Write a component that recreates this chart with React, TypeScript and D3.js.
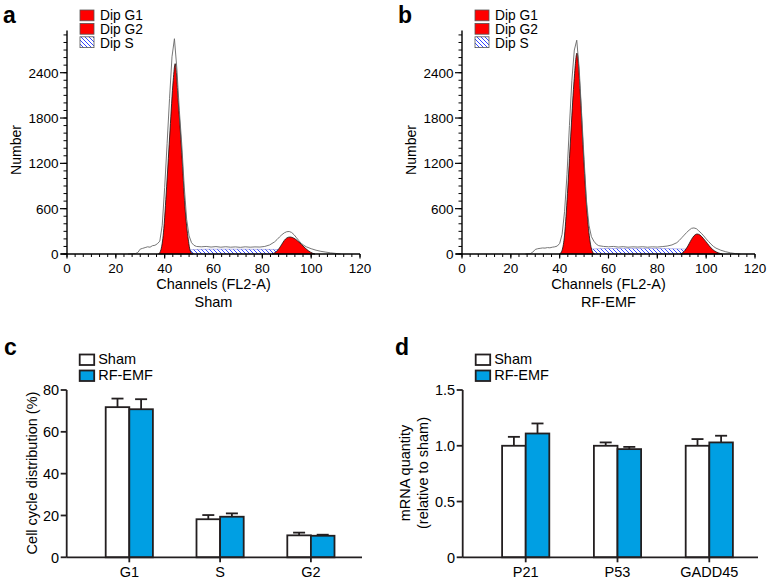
import React from "react";
import * as d3 from "d3";

// ---------- DATA ----------
// Histogram x ticks (channels) and y ticks (number)
const histXTicks = [0, 20, 40, 60, 80, 100, 120];
const histYTicks = [0, 600, 1200, 1800, 2400];
const histLegend = ["Dip G1", "Dip G2", "Dip S"];

// Panel a (Sham) – raw histogram [channel, count]
const shamRaw: [number, number][] = [
  [25, 0], [28, 5], [29, 20], [30, 65], [31, 75], [32, 85], [33, 95], [34, 90], [35, 110], [36, 115],
  [37, 135], [38, 170], [39, 380], [40, 880], [41, 1460], [42, 2060], [43, 2610], [44, 2850], [45, 2450],
  [46, 1900], [47, 1450], [48, 900], [49, 460], [50, 240], [51, 150], [52, 115], [53, 100], [55, 95],
  [57, 100], [59, 92], [61, 98], [63, 90], [65, 96], [67, 90], [69, 94], [71, 88], [73, 95], [75, 90],
  [77, 94], [79, 92], [81, 100], [83, 120], [85, 160], [86, 190], [87, 225], [88, 255], [89, 280],
  [90, 295], [91, 298], [92, 285], [93, 255], [94, 215], [95, 175], [96, 140], [97, 115], [98, 95],
  [100, 70], [102, 50], [104, 35], [106, 25], [108, 15], [110, 8], [112, 0],
];
const shamG1: [number, number][] = [
  [37.5, 0], [38.5, 60], [39.5, 280], [40.8, 890], [42.2, 1640], [43.5, 2300], [44.3, 2520],
  [45.6, 2000], [47, 1340], [48.3, 630], [49.7, 185], [50.5, 40], [51.5, 0],
];
const shamG2: [number, number][] = [
  [84, 0], [85, 15], [86, 40], [87, 80], [88, 130], [89, 180], [90, 212], [91.4, 225], [93, 208],
  [94.5, 172], [96, 128], [97.5, 80], [99, 40], [100.5, 12], [101.5, 0],
];
const shamS: [number, number][] = [
  [45.5, 0], [47, 25], [48.5, 45], [50, 55], [55, 62], [60, 64], [65, 64], [70, 64], [75, 63],
  [80, 62], [85, 60], [90, 56], [94, 45], [97, 25], [99, 8], [100, 0],
];

// Panel b (RF-EMF)
const rfRaw: [number, number][] = [
  [26, 0], [28, 5], [29, 25], [30, 60], [31, 70], [32, 75], [33, 80], [34, 78], [35, 85], [36, 82],
  [37, 90], [38, 95], [39, 105], [40, 140], [41, 260], [42, 560], [43, 1050], [44, 1700], [45, 2300],
  [46, 2700], [47, 2830], [48, 2450], [49, 1850], [50, 1250], [51, 700], [52, 380], [53, 230],
  [54, 170], [55, 130], [56, 110], [58, 100], [60, 95], [62, 100], [64, 92], [66, 97], [68, 90],
  [70, 95], [72, 92], [74, 96], [76, 90], [78, 95], [80, 92], [82, 98], [84, 105], [86, 120],
  [88, 150], [89, 180], [90, 215], [91, 250], [92, 285], [93, 315], [94, 340], [95, 345], [96, 335],
  [97, 305], [98, 275], [99, 240], [100, 200], [101, 165], [102, 130], [103, 100], [104, 78],
  [106, 50], [108, 30], [110, 15], [112, 5], [114, 0],
];
const rfG1: [number, number][] = [
  [40, 0], [41, 50], [42, 250], [43.2, 800], [44.5, 1550], [45.8, 2250], [47.1, 2660], [48.4, 2150],
  [49.7, 1350], [51, 650], [52.3, 200], [53.3, 40], [54.2, 0],
];
const rfG2: [number, number][] = [
  [89.5, 0], [90.5, 20], [91.5, 55], [92.5, 105], [93.5, 165], [94.5, 220], [95.5, 255], [96.3, 265],
  [97.5, 250], [99, 200], [100.5, 140], [102, 80], [103.5, 40], [105, 15], [106.6, 0],
];
const rfS: [number, number][] = [
  [48.5, 0], [50, 25], [51.5, 50], [53, 65], [58, 72], [65, 74], [72, 74], [80, 73], [86, 70],
  [92, 65], [96, 55], [100, 35], [103, 12], [105, 0],
];

// Panel c
const cycleCats = ["G1", "S", "G2"];
const cycleSham = [71.8, 18.2, 10.5];
const cycleShamErr = [4.1, 2.0, 1.3];
const cycleRF = [70.8, 19.4, 10.3];
const cycleRFErr = [4.8, 1.6, 0.5];
const cycleYTicks = [0, 20, 40, 60, 80];

// Panel d
const geneCats = ["P21", "P53", "GADD45"];
const geneSham = [1.0, 1.0, 1.0];
const geneShamErr = [0.08, 0.03, 0.06];
const geneRF = [1.11, 0.97, 1.03];
const geneRFErr = [0.09, 0.02, 0.06];
const geneYTicks = [0, 0.5, 1.0, 1.5];
const geneYLabels = ["0", "0.5", "1.0", "1.5"];

const groupNames = ["Sham", "RF-EMF"];

// ---------- STYLE ----------
const FONT = "Arial, 'Liberation Sans', Helvetica, sans-serif";
const RED = "#ff0000";
const BLUE = "#009fe3";
const DARK = "#231f20";

type Pts = [number, number][];

function Histogram(props: {
  id: string; x0: number; letter: string; letterX: number; title: string;
  raw: Pts; g1: Pts; g2: Pts; s: Pts;
}) {
  const { id, x0, letter, letterX, title, raw, g1, g2, s } = props;
  const x = d3.scaleLinear().domain([0, 120]).range([x0, x0 + 293]);
  const y = d3.scaleLinear().domain([0, 2400]).range([254, 72.7]);
  const area = d3.area<[number, number]>().x(d => x(d[0])).y0(y(0)).y1(d => y(d[1])).curve(d3.curveMonotoneX);
  const line = d3.line<[number, number]>().x(d => x(d[0])).y(d => y(d[1]));
  const minorX = d3.range(0, 120.001, 20 / 6);
  const minorY = d3.range(0, 2901, 100);
  const lx = x0 + 13;
  return (
    <g>
      <defs>
        <pattern id={`hatch-${id}`} patternUnits="userSpaceOnUse" width={4} height={4}>
          <rect width={4} height={4} fill="#fff" />
          <path d="M-1,-1 L5,5 M-1,3 L1,5 M3,-1 L5,1" stroke="#3346ff" strokeWidth={1} />
        </pattern>
      </defs>
      <text x={letterX} y={22.7} fontSize={23} fontWeight="bold" fontFamily={FONT}>{letter}</text>
      {/* legend */}
      {histLegend.map((name, i) => (
        <g key={name}>
          <rect x={lx} y={10 + i * 13.4} width={14} height={10.8}
            fill={i < 2 ? RED : `url(#hatch-${id})`} stroke="#555" strokeWidth={0.8} />
          <text x={x0 + 33} y={20.3 + i * 13.6} fontSize={13.8} fontFamily={FONT}>{name}</text>
        </g>
      ))}
      {/* data */}
      <path d={area(s) || ""} fill={`url(#hatch-${id})`} stroke="#7a7ad0" strokeWidth={0.5} />
      <path d={area(g1) || ""} fill={RED} stroke="#111" strokeWidth={0.8} />
      <path d={area(g2) || ""} fill={RED} stroke="#111" strokeWidth={0.8} />
      <path d={line(raw) || ""} fill="none" stroke="#666" strokeWidth={0.9} />
      {/* axes */}
      <line x1={x0} x2={x0} y1={y(0)} y2={y(2960)} stroke="#000" strokeWidth={1.4} />
      <line x1={x0 - 6} x2={x(120)} y1={y(0)} y2={y(0)} stroke="#000" strokeWidth={1.4} />
      {minorY.map(v => (
        <line key={`my${v}`} x1={x0 - 3.5} x2={x0} y1={y(v)} y2={y(v)} stroke="#000" strokeWidth={1} />
      ))}
      {histYTicks.map(v => (
        <g key={`y${v}`}>
          <line x1={x0 - 7} x2={x0} y1={y(v)} y2={y(v)} stroke="#000" strokeWidth={1.2} />
          <text x={x0 - 8.5} y={y(v)} dy="0.36em" textAnchor="end" fontSize={13.5} fontFamily={FONT}>{v}</text>
        </g>
      ))}
      {minorX.map(v => (
        <line key={`mx${v}`} x1={x(v)} x2={x(v)} y1={y(0)} y2={y(0) + 3} stroke="#000" strokeWidth={1} />
      ))}
      {histXTicks.map(v => (
        <g key={`x${v}`}>
          <line x1={x(v)} x2={x(v)} y1={y(0)} y2={y(0) + 4.5} stroke="#000" strokeWidth={1.2} />
          <text x={x(v)} y={273.3} textAnchor="middle" fontSize={13.5} fontFamily={FONT}>{v}</text>
        </g>
      ))}
      <text transform={`translate(${x0 - 46},150) rotate(-90)`} textAnchor="middle" fontSize={14} fontFamily={FONT}>Number</text>
      <text x={x(60)} y={289} textAnchor="middle" fontSize={14.5} fontFamily={FONT}>Channels (FL2-A)</text>
      <text x={x(60)} y={306.5} textAnchor="middle" fontSize={14.5} fontFamily={FONT}>{title}</text>
    </g>
  );
}

function BarPanel(props: {
  x0: number; x1: number; letter: string; letterX: number; cats: string[];
  sham: number[]; shamErr: number[]; rf: number[]; rfErr: number[];
  yMax: number; yTicks: number[]; yLabels: string[]; centers: [number, number];
  yTitle: string[];
}) {
  const { x0, x1, letter, letterX, cats, sham, shamErr, rf, rfErr, yMax, yTicks, yLabels, centers, yTitle } = props;
  const y = d3.scaleLinear().domain([0, yMax]).range([557.3, 390]);
  const cx = d3.scalePoint<string>().domain(cats).range(centers);
  const bw = 23.6;
  const series = [
    { vals: sham, errs: shamErr, fill: "#fff", off: -bw },
    { vals: rf, errs: rfErr, fill: BLUE, off: 0 },
  ];
  return (
    <g fontFamily={FONT}>
      <text x={letterX} y={355} fontSize={23} fontWeight="bold">{letter}</text>
      {groupNames.map((n, i) => (
        <g key={n}>
          <rect x={x0 + 13} y={354.5 + i * 16} width={14.5} height={10.5}
            fill={i === 0 ? "#fff" : BLUE} stroke={DARK} strokeWidth={1.8} />
          <text x={x0 + 31.5} y={363.5 + i * 16} fontSize={14.5}>{n}</text>
        </g>
      ))}
      {series.map((s, si) => cats.map((c, i) => {
        const bx = (cx(c) || 0) + s.off;
        const top = y(s.vals[i]);
        const et = y(s.vals[i] + s.errs[i]);
        const mid = bx + bw / 2;
        return (
          <g key={`${si}-${c}`}>
            <line x1={mid} x2={mid} y1={top} y2={et} stroke={DARK} strokeWidth={1.8} />
            <line x1={mid - 6} x2={mid + 6} y1={et} y2={et} stroke={DARK} strokeWidth={1.8} />
            <rect x={bx} y={top} width={bw} height={y(0) - top} fill={s.fill} stroke={DARK} strokeWidth={1.8} />
          </g>
        );
      }))}
      <line x1={x0} x2={x0} y1={y(0)} y2={y(yMax)} stroke={DARK} strokeWidth={1.8} />
      <line x1={x0} x2={x1} y1={y(0)} y2={y(0)} stroke={DARK} strokeWidth={1.8} />
      {yTicks.map((v, i) => (
        <g key={`t${i}`}>
          <line x1={x0 - 6} x2={x0} y1={y(v)} y2={y(v)} stroke={DARK} strokeWidth={1.8} />
          <text x={x0 - 7.5} y={y(v)} dy="0.36em" textAnchor="end" fontSize={14.5}>{yLabels[i]}</text>
        </g>
      ))}
      {cats.map(c => (
        <g key={`c${c}`}>
          <line x1={cx(c)} x2={cx(c)} y1={y(0)} y2={y(0) + 5} stroke={DARK} strokeWidth={1.8} />
          <text x={cx(c)} y={577} textAnchor="middle" fontSize={14.5}>{c}</text>
        </g>
      ))}
      {yTitle.length === 1 ? (
        <text transform={`translate(${x0 - 30},473) rotate(-90)`} textAnchor="middle" fontSize={14.5}>{yTitle[0]}</text>
      ) : (
        yTitle.map((t, i) => (
          <text key={t} transform={`translate(${x0 - 53 + i * 18},473) rotate(-90)`} textAnchor="middle" fontSize={14.5}>{t}</text>
        ))
      )}
    </g>
  );
}

export default function App() {
  return (
    <svg width={772} height={581} style={{ position: "absolute", left: 0, top: 0, background: "#fff" }}>
      <rect width={772} height={581} fill="#fff" />
      <Histogram id="a" x0={67} letter="a" letterX={3} title="Sham" raw={shamRaw} g1={shamG1} g2={shamG2} s={shamS} />
      <Histogram id="b" x0={462} letter="b" letterX={398} title="RF-EMF" raw={rfRaw} g1={rfG1} g2={rfG2} s={rfS} />
      <BarPanel x0={66.7} x1={362} letter="c" letterX={4} cats={cycleCats}
        sham={cycleSham} shamErr={cycleShamErr} rf={cycleRF} rfErr={cycleRFErr}
        yMax={80} yTicks={cycleYTicks} yLabels={cycleYTicks.map(String)} centers={[129.3, 310.9]}
        yTitle={["Cell cycle distribution (%)"]} />
      <BarPanel x0={462.7} x1={758} letter="d" letterX={395} cats={geneCats}
        sham={geneSham} shamErr={geneShamErr} rf={geneRF} rfErr={geneRFErr}
        yMax={1.5} yTicks={geneYTicks} yLabels={geneYLabels} centers={[525.7, 709.3]}
        yTitle={["mRNA quantity", "(relative to sham)"]} />
    </svg>
  );
}
